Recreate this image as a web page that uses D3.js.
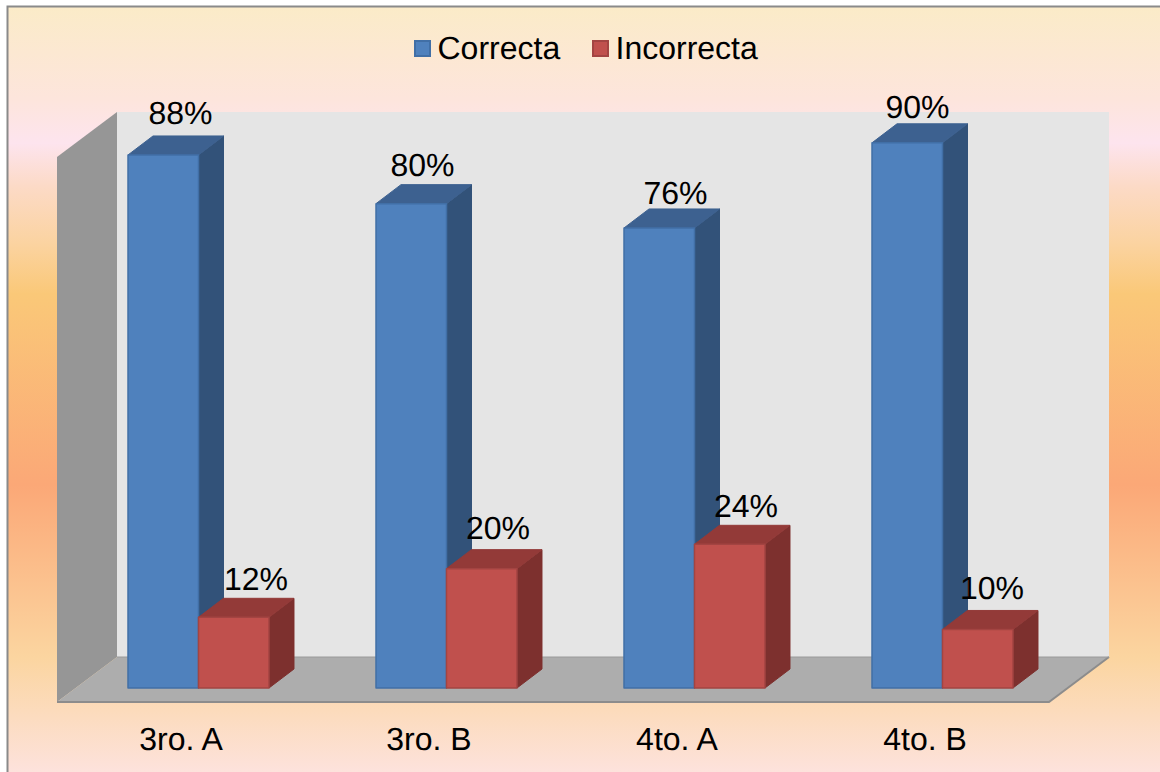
<!DOCTYPE html>
<html>
<head>
<meta charset="utf-8">
<script src="https://cdn.jsdelivr.net/npm/d3@7"></script>
<style>
html,body{margin:0;padding:0;background:#fff;overflow:hidden}
svg{display:block}
text{font-family:"Liberation Sans",Arial,sans-serif;fill:#000;text-rendering:geometricPrecision}
</style>
</head>
<body>
<svg id="chart" width="1160" height="772"></svg>
<script>
// Results per class group
const categories = ["3ro. A", "3ro. B", "4to. A", "4to. B"];
const seriesNames = ["Correcta", "Incorrecta"];
const correcta = [88, 80, 76, 90];
const incorrecta = [12, 20, 24, 10];
const seriesValues = [correcta, incorrecta];

// Hand placement of the data labels around each column's top
const labelNudgeX = [[5.5, -0.5, 4.5, -1.5], [10.5, 4.5, 4.5, 2.5]];
const labelBaseline = [[124, 176, 203.5, 118], [589.5, 538.5, 516.5, 598.5]];

const W = 1160, H = 772;
const plotLeft = 57, plotRight = 1049, plotBottom = 702, plotTop = 157;
const wallDepth = { x: 60, y: -45 };
const barFrontX = 17.5;
const columnFloor = 688;
const barDepth = { x: 25, y: -19 };
const fontSize = 32;

const palette = [
  { front: "#4f81bd", top: "#3d6190", side: "#325279", edge: "#416fa6" },
  { front: "#c0504d", top: "#933a38", side: "#7d302e", edge: "#a34442" }
];

const svg = d3.select("#chart");
const defs = svg.append("defs");

// Banded vertical wash behind the whole chart
const wash = defs.append("linearGradient")
  .attr("id", "wash").attr("gradientUnits", "userSpaceOnUse")
  .attr("x1", 0).attr("x2", 0).attr("y1", 7).attr("y2", 772);
[[0, "#fbebc8"], [0.12, "#fde5dc"], [0.178, "#fde4ee"], [0.235, "#fcdac6"], [0.31, "#fbd3a0"],
 [0.375, "#fac878"], [0.625, "#fba877"], [0.85, "#fbd5a0"], [1, "#fde2dc"]]
  .forEach(([o, c]) => wash.append("stop").attr("offset", o).attr("stop-color", c));

svg.append("rect").attr("x", 7.5).attr("y", 6.5)
  .attr("width", W).attr("height", H)
  .attr("fill", "url(#wash)").attr("stroke", "#8a8a8a").attr("stroke-width", 2);

// Scales: one for the box on the floor's front edge, one for the column fronts
const x0 = d3.scaleBand().domain(categories).range([plotLeft, plotRight]).paddingInner(0.4315).paddingOuter(0.21575);
const x1 = d3.scaleBand().domain(seriesNames).range([0, x0.bandwidth()]);
const y = d3.scaleLinear().domain([0, 90]).range([plotBottom, plotTop]);
const yColumn = d3.scaleLinear().domain([0, 90]).range([690.3, 142.8]);
const line = d3.line();

// Chart box: back wall, side wall, floor
const box = svg.append("g");
box.append("path")
  .attr("d", line([[plotLeft + wallDepth.x, y(0) + wallDepth.y], [plotRight + wallDepth.x, y(0) + wallDepth.y],
                   [plotRight + wallDepth.x, y(90) + wallDepth.y], [plotLeft + wallDepth.x, y(90) + wallDepth.y]]) + "Z")
  .attr("fill", "#e5e5e5");
box.append("path")
  .attr("d", line([[plotLeft, y(0)], [plotLeft + wallDepth.x, y(0) + wallDepth.y],
                   [plotLeft + wallDepth.x, y(90) + wallDepth.y], [plotLeft, y(90)]]) + "Z")
  .attr("fill", "#969696");
box.append("path")
  .attr("d", line([[plotLeft, y(0)], [plotLeft + wallDepth.x, y(0) + wallDepth.y],
                   [plotRight + wallDepth.x, y(0) + wallDepth.y], [plotRight, y(0)]]) + "Z")
  .attr("fill", "#adadad");
box.append("path")
  .attr("d", line([[plotLeft, y(0)], [plotRight, y(0)], [plotRight + wallDepth.x, y(0) + wallDepth.y]]))
  .attr("fill", "none").attr("stroke", "#8c8c8c").attr("stroke-width", 2);
box.append("path")
  .attr("d", line([[plotLeft + wallDepth.x, y(0) + wallDepth.y], [plotRight + wallDepth.x, y(0) + wallDepth.y]]))
  .attr("fill", "none").attr("stroke", "#9a9a9a").attr("stroke-width", 1);

// Extruded columns
categories.forEach((cat, ci) => {
  seriesNames.forEach((name, si) => {
    const v = seriesValues[si][ci];
    const c = palette[si];
    const xl = x0(cat) + x1(name) + barFrontX;
    const xr = xl + x1.bandwidth();
    const yt = yColumn(v);
    const yb = columnFloor;
    const g = svg.append("g").attr("class", "column")
      .attr("stroke-width", 1).attr("stroke-linejoin", "round");
    g.append("path")
      .attr("d", line([[xr, yt], [xr + barDepth.x, yt + barDepth.y], [xr + barDepth.x, yb + barDepth.y], [xr, yb]]) + "Z")
      .attr("fill", c.side).attr("stroke", c.side);
    g.append("path")
      .attr("d", line([[xl, yt], [xl + barDepth.x, yt + barDepth.y], [xr + barDepth.x, yt + barDepth.y], [xr, yt]]) + "Z")
      .attr("fill", c.top).attr("stroke", c.top);
    g.append("rect")
      .attr("x", xl).attr("y", yt).attr("width", xr - xl).attr("height", yb - yt)
      .attr("fill", c.front).attr("stroke", c.edge).attr("stroke-width", 1.5);
  });
});

// Data labels
categories.forEach((cat, ci) => {
  seriesNames.forEach((name, si) => {
    const v = seriesValues[si][ci];
    svg.append("text")
      .attr("x", x0(cat) + x1(name) + barFrontX + 47 + labelNudgeX[si][ci])
      .attr("y", labelBaseline[si][ci])
      .attr("text-anchor", "middle").attr("font-size", fontSize)
      .text(v + "%");
  });
});

// Category labels
categories.forEach(cat => {
  svg.append("text")
    .attr("x", x0(cat) + x0.bandwidth() / 2).attr("y", 750)
    .attr("text-anchor", "middle").attr("font-size", fontSize)
    .text(cat);
});

// Legend
const legendX = d3.scaleOrdinal().domain(seriesNames).range([414, 592]);
seriesNames.forEach((name, si) => {
  svg.append("rect")
    .attr("x", legendX(name) + 1).attr("y", 41).attr("width", 15).attr("height", 15)
    .attr("fill", palette[si].front).attr("stroke", palette[si].edge).attr("stroke-width", 2);
  svg.append("text")
    .attr("x", legendX(name) + 23.5).attr("y", 59).attr("font-size", fontSize)
    .text(name);
});
</script>
</body>
</html>
